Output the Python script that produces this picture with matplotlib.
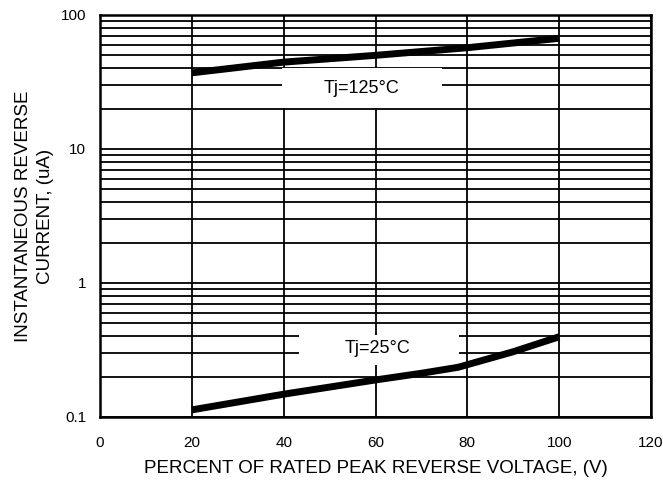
import numpy as np
import matplotlib.pyplot as plt
from matplotlib.patches import Rectangle
from matplotlib.ticker import LogLocator, FixedLocator, NullFormatter

plt.rcParams['font.family'] = ['Liberation Sans', 'DejaVu Sans']

# percent of rated peak reverse voltage
volt_125 = [20, 40, 60, 80, 100]
curr_125 = [37, 44.5, 50, 57, 67]

volt_25 = [20, 40, 60, 70, 78, 90, 100]
curr_25 = [0.113, 0.148, 0.189, 0.212, 0.235, 0.307, 0.397]

x_ticks = [0, 20, 40, 60, 80, 100, 120]
y_ticks = [0.1, 1, 10, 100]
y_labels = ['0.1', '1', '10', '100']

fig = plt.figure(figsize=(6.63, 4.8), dpi=100)
ax = fig.add_axes([100 / 663, 1 - 417 / 480, 551 / 663, 402 / 480])

ax.set_yscale('log')
ax.set_xlim(0, 120)
ax.set_ylim(0.1, 100)

ax.set_xticks(x_ticks)
ax.set_yticks(y_ticks)
ax.set_yticklabels(y_labels)
ax.yaxis.set_minor_locator(LogLocator(base=10, subs=np.arange(2, 10)))
ax.yaxis.set_minor_formatter(NullFormatter())
ax.xaxis.set_minor_locator(FixedLocator([]))

ax.grid(True, which='both', color='black', linewidth=1.3)
ax.tick_params(which='both', length=0, labelsize=11)
ax.tick_params(axis='x', pad=14)
ax.tick_params(axis='y', pad=10)
for sp in ax.spines.values():
    sp.set_linewidth(1.8)
    sp.set_zorder(5)

# temperature labels on white boxes
ax.add_patch(Rectangle((39.6, 20.2), 34.9, 20.0, facecolor='white',
                       edgecolor='none', zorder=3))
ax.text(57, 28.5, 'Tj=125°C', ha='center', va='center', fontsize=13, zorder=4)
ax.add_patch(Rectangle((43.3, 0.244), 34.9, 0.165, facecolor='white',
                       edgecolor='none', zorder=3))
ax.text(60.5, 0.327, 'Tj=25°C', ha='center', va='center', fontsize=13, zorder=4)

ax.plot(volt_125, curr_125, color='black', linewidth=5, zorder=6,
        solid_capstyle='butt')
ax.plot(volt_25, curr_25, color='black', linewidth=5, zorder=6,
        solid_capstyle='butt')

ax.set_xlabel('PERCENT OF RATED PEAK REVERSE VOLTAGE, (V)', fontsize=13.5)
ax.xaxis.set_label_coords(0.5, -0.108)
ax.set_ylabel('INSTANTANEOUS REVERSE\nCURRENT, (uA)', fontsize=13.5,
              linespacing=1.4)
ax.yaxis.set_label_coords(-0.083, 0.5)

fig.savefig('out.png', dpi=100)
